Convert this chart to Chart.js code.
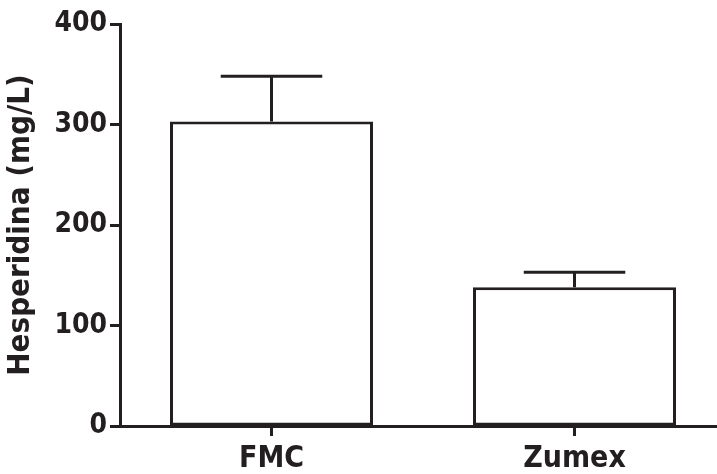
<!DOCTYPE html>
<html>
<head>
<meta charset="utf-8">
<script src="https://cdn.jsdelivr.net/npm/chart.js@4/dist/chart.umd.min.js"></script>
<style>
html,body{margin:0;padding:0;background:#fff;}
#c{display:block;}
</style>
</head>
<body>
<canvas id="c" width="717" height="474"></canvas>
<script>
const categories = ["FMC", "Zumex"];
const values = [303, 138];
const errors = [45, 15];
const yTicks = [0, 100, 200, 300, 400];
const yTitle = "Hesperidina (mg/L)";

const INK = '#231f20';
const FONT = '"DejaVu Sans Condensed", "Liberation Sans Narrow", "Liberation Sans", sans-serif';

const errorBars = {
  id: 'errorBars',
  afterDatasetsDraw(chart) {
    const ctx = chart.ctx;
    const meta = chart.getDatasetMeta(0);
    const ys = chart.scales.y;
    ctx.save();
    ctx.strokeStyle = INK;
    ctx.lineWidth = 3;
    ctx.lineCap = 'butt';
    meta.data.forEach((bar, i) => {
      const x = bar.x;
      const yTop = ys.getPixelForValue(values[i] + errors[i]);
      const yBar = ys.getPixelForValue(values[i]);
      const half = bar.width * 0.25;
      ctx.beginPath();
      ctx.moveTo(x, yBar);
      ctx.lineTo(x, yTop);
      ctx.moveTo(x - half, yTop);
      ctx.lineTo(x + half, yTop);
      ctx.stroke();
    });
    ctx.restore();
  }
};

// The x axis of the original runs slightly past the right edge of the picture.
const extendX = {
  id: 'extendX',
  afterLayout(chart) {
    const xs = chart.scales.x;
    xs.right = xs.left + 606;
    xs.width = 606;
    xs.configure();
  }
};

new Chart(document.getElementById('c'), {
  type: 'bar',
  data: {
    labels: categories,
    datasets: [{
      data: values,
      backgroundColor: '#ffffff',
      borderColor: INK,
      borderWidth: 3,
      borderSkipped: false,
      categoryPercentage: 1,
      barPercentage: 0.67
    }]
  },
  options: {
    responsive: false,
    animation: false,
    devicePixelRatio: 1,
    layout: { padding: { top: 24, right: 0, left: 0, bottom: 0 } },
    plugins: { legend: { display: false }, tooltip: { enabled: false } },
    scales: {
      y: {
        min: 0, max: 400,
        afterBuildTicks(scale) { scale.ticks = yTicks.map(v => ({ value: v })); },
        afterFit(scale) { scale.width = 120; },
        ticks: {
          color: INK,
          font: { family: FONT, size: 28, weight: 'bold' },
          padding: 3
        },
        grid: {
          drawOnChartArea: false,
          tickLength: 10,
          tickWidth: 3,
          tickColor: INK
        },
        border: { color: INK, width: 3 },
        title: {
          display: true,
          text: yTitle,
          color: INK,
          font: { family: FONT, size: 31, weight: 'bold' },
          padding: { top: 2, bottom: 0 }
        }
      },
      x: {
        afterFit(scale) { scale.height = 48; },
        ticks: {
          color: INK,
          font: { family: FONT, size: 30, weight: 'bold' },
          padding: 5
        },
        grid: {
          offset: false,
          drawOnChartArea: false,
          tickLength: 10,
          tickWidth: 3,
          tickColor: INK
        },
        border: { color: INK, width: 3 }
      }
    }
  },
  plugins: [errorBars, extendX]
});
</script>
</body>
</html>
